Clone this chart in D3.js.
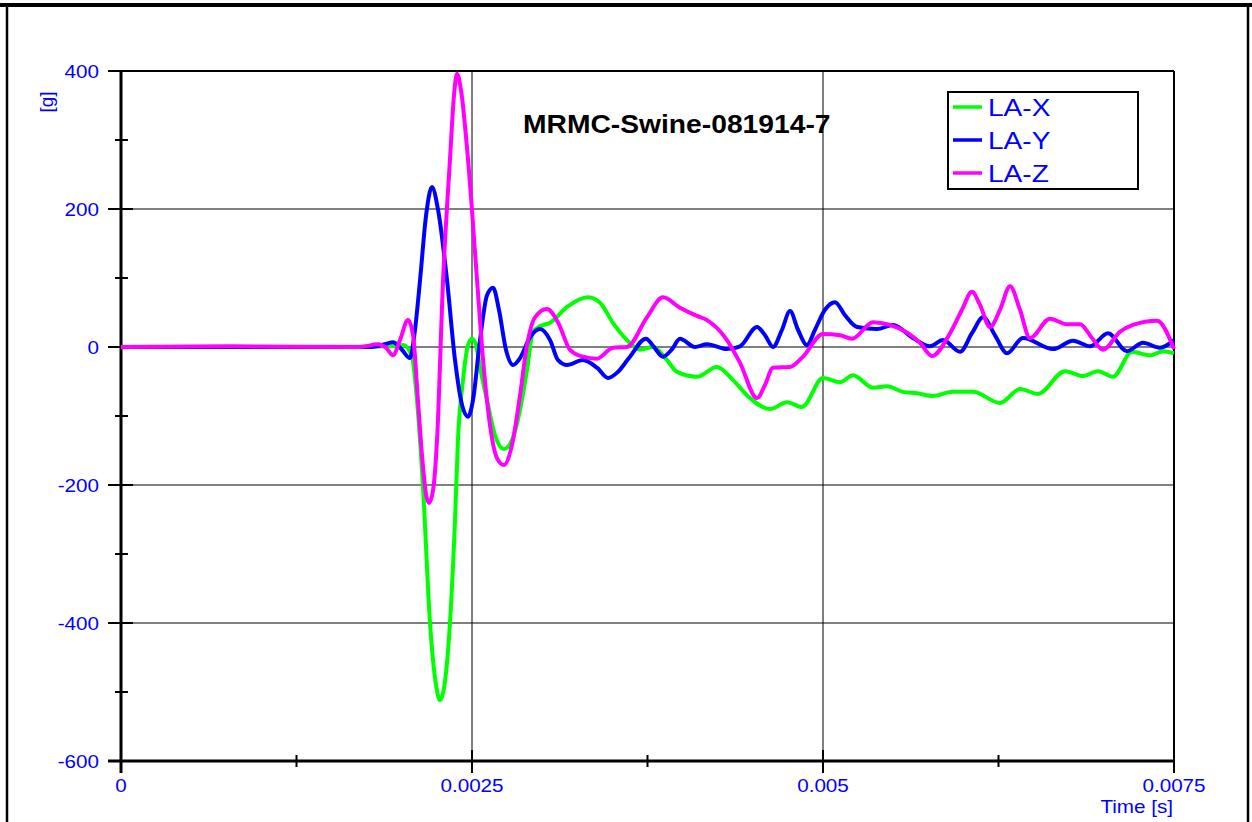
<!DOCTYPE html>
<html>
<head>
<meta charset="UTF-8">
<title>MRMC-Swine-081914-7</title>
<script src="https://cdnjs.cloudflare.com/ajax/libs/d3/7.8.5/d3.min.js"></script>
<style>
    body { margin: 0; background: #fff; }
    svg { display: block; }
    text { font-family: "Liberation Sans", Arial, sans-serif; }
</style>
</head>
<body>
<svg id="chart" width="1252" height="822"></svg>
<script>
// chart data
const chartTitle = "MRMC-Swine-081914-7";
const xTicks = [0, 0.0025, 0.005, 0.0075];
const xTickLabels = ["0", "0.0025", "0.005", "0.0075"];
const xMinorTicks = [0.00125, 0.00375, 0.00625];
const yTicks = [400, 200, 0, -200, -400, -600];
const yTickLabels = ["400", "200", "0", "-200", "-400", "-600"];
const yMinorTicks = [300, 100, -100, -300, -500];
const seriesNames = ["LA-X", "LA-Y", "LA-Z"];
const seriesColors = ["#00ff00", "#0000ff", "#ff00ff"];

// time in ms, acceleration in g
const laXTime = [0, 1.275, 1.952, 2.009, 2.073, 2.108, 2.151, 2.201, 2.244, 2.272, 2.301, 2.343, 2.379, 2.400, 2.436, 2.472, 2.500, 2.528, 2.557, 2.607, 2.664, 2.728, 2.785, 2.842, 2.892, 2.934, 2.984, 3.056, 3.177, 3.326, 3.412, 3.504, 3.604, 3.697, 3.789, 3.889, 3.960, 4.103, 4.245, 4.359, 4.480, 4.623, 4.744, 4.850, 5.000, 5.121, 5.214, 5.356, 5.456, 5.570, 5.670, 5.783, 5.926, 6.068, 6.261, 6.403, 6.531, 6.724, 6.852, 6.959, 7.066, 7.201, 7.329, 7.422, 7.500];
const laXValue = [0, 0, 1, 3, -14, -77, -203, -400, -490, -512, -494, -400, -251, -135, -48, 3, 12, 3, -29, -77, -128, -148, -135, -91, -33, 22, 30, 35, 58, 72, 64, 35, 10, -4, 0, -19, -36, -43, -29, -48, -74, -90, -80, -87, -45, -51, -41, -59, -57, -65, -67, -71, -65, -65, -81, -61, -68, -35, -42, -35, -43, -7, -12, -6, -9];

const laYTime = [0, 1.773, 1.880, 1.937, 2.001, 2.058, 2.094, 2.130, 2.173, 2.215, 2.258, 2.322, 2.379, 2.429, 2.472, 2.507, 2.557, 2.607, 2.650, 2.692, 2.742, 2.792, 2.842, 2.913, 2.984, 3.056, 3.113, 3.177, 3.290, 3.390, 3.469, 3.540, 3.625, 3.739, 3.796, 3.860, 3.925, 3.981, 4.088, 4.174, 4.316, 4.409, 4.530, 4.587, 4.644, 4.708, 4.765, 4.822, 4.886, 4.943, 5.014, 5.085, 5.157, 5.242, 5.385, 5.499, 5.641, 5.762, 5.855, 5.976, 6.061, 6.140, 6.225, 6.311, 6.424, 6.638, 6.781, 6.902, 7.030, 7.165, 7.279, 7.400, 7.500];
const laYValue = [0, 0, 4, 7, -4, -16, 25, 97, 191, 232, 199, 97, -19, -84, -101, -77, 10, 75, 86, 54, -4, -26, -16, 14, 26, 10, -19, -26, -19, -30, -45, -36, -14, 12, 0, -14, -3, 12, 0, 4, -3, 1, 29, 17, 0, 25, 52, 25, 3, 25, 54, 65, 46, 29, 26, 32, 13, 1, 10, -7, 20, 43, 17, -9, 13, -3, 9, 1, 20, -6, 6, -1, 10];

const laZTime = [0, 0.776, 1.702, 1.830, 1.887, 1.937, 1.987, 2.044, 2.080, 2.115, 2.144, 2.173, 2.194, 2.223, 2.251, 2.294, 2.343, 2.372, 2.393, 2.422, 2.472, 2.536, 2.579, 2.628, 2.678, 2.728, 2.785, 2.842, 2.892, 2.949, 3.034, 3.112, 3.198, 3.290, 3.390, 3.504, 3.604, 3.746, 3.860, 3.981, 4.103, 4.174, 4.316, 4.409, 4.530, 4.587, 4.644, 4.765, 4.858, 5.000, 5.121, 5.207, 5.356, 5.477, 5.605, 5.691, 5.776, 5.905, 5.990, 6.061, 6.118, 6.189, 6.261, 6.332, 6.403, 6.474, 6.617, 6.738, 6.831, 6.916, 6.994, 7.115, 7.208, 7.379, 7.500];
const laZValue = [0, 1, 0, 4, -1, -12, 10, 39, 17, -77, -157, -214, -226, -207, -135, 97, 271, 365, 396, 372, 271, 97, -19, -113, -161, -171, -142, -70, 3, 43, 55, 36, -4, -14, -17, -1, 0, 43, 72, 57, 45, 39, 10, -23, -74, -55, -30, -29, -14, 19, 17, 12, 36, 32, 20, 6, -13, 20, 54, 80, 61, 29, 54, 88, 54, 13, 41, 33, 33, 13, -4, 22, 32, 38, -3];

const seriesTimes = [laXTime, laYTime, laZTime];
const seriesValues = [laXValue, laYValue, laZValue];

const svg = d3.select("#chart");
const blue = "#0000ff";
const stretch = 1.18;   // text in the source is drawn a bit wider than normal

const x = d3.scaleLinear().domain([0, 0.0075]).range([121, 1174]);
const y = d3.scaleLinear().domain([-600, 400]).range([761, 71]);

svg.append("rect").attr("width", 1252).attr("height", 822).attr("fill", "#fff");

// outer frame
svg.append("line").attr("x1", 0).attr("x2", 1252).attr("y1", 5).attr("y2", 5)
    .attr("stroke", "#000").attr("stroke-width", 4);
svg.append("line").attr("x1", 7).attr("x2", 7).attr("y1", 3).attr("y2", 822)
    .attr("stroke", "#000").attr("stroke-width", 2.5);
svg.append("line").attr("x1", 1248).attr("x2", 1248).attr("y1", 3).attr("y2", 822)
    .attr("stroke", "#000").attr("stroke-width", 2.5);

// grid
svg.selectAll(".hgrid").data(yTicks.slice(1, -1)).join("line")
    .attr("x1", x(0)).attr("x2", x(0.0075))
    .attr("y1", d => y(d)).attr("y2", d => y(d))
    .attr("stroke", "#808080").attr("stroke-width", 2);
svg.selectAll(".vgrid").data(xTicks.slice(1, -1)).join("line")
    .attr("x1", d => x(d)).attr("x2", d => x(d))
    .attr("y1", y(400)).attr("y2", y(-600))
    .attr("stroke", "#000").attr("stroke-width", 1);

// plot frame
svg.append("line").attr("x1", x(0) - 13).attr("x2", x(0.0075)).attr("y1", y(400)).attr("y2", y(400))
    .attr("stroke", "#000").attr("stroke-width", 2);
svg.append("line").attr("x1", x(0.0075)).attr("x2", x(0.0075)).attr("y1", y(400)).attr("y2", y(-600) + 12)
    .attr("stroke", "#000").attr("stroke-width", 2);
svg.append("line").attr("x1", x(0)).attr("x2", x(0)).attr("y1", y(400)).attr("y2", y(-600) + 12)
    .attr("stroke", "#000").attr("stroke-width", 3);
svg.append("line").attr("x1", x(0) - 13).attr("x2", x(0.0075)).attr("y1", y(-600)).attr("y2", y(-600))
    .attr("stroke", "#000").attr("stroke-width", 3);

// ticks
svg.selectAll(".ytick").data(yTicks).join("line")
    .attr("x1", x(0) - 13).attr("x2", x(0) + 12)
    .attr("y1", d => y(d)).attr("y2", d => y(d))
    .attr("stroke", "#000").attr("stroke-width", 2);
svg.selectAll(".yminor").data(yMinorTicks).join("line")
    .attr("x1", x(0) - 6).attr("x2", x(0) + 7)
    .attr("y1", d => y(d)).attr("y2", d => y(d))
    .attr("stroke", "#000").attr("stroke-width", 2);
svg.selectAll(".xtick").data(xTicks).join("line")
    .attr("x1", d => x(d)).attr("x2", d => x(d))
    .attr("y1", y(-600) - 11).attr("y2", y(-600) + 12)
    .attr("stroke", "#000").attr("stroke-width", 2);
svg.selectAll(".xminor").data(xMinorTicks).join("line")
    .attr("x1", d => x(d)).attr("x2", d => x(d))
    .attr("y1", y(-600) - 6).attr("y2", y(-600) + 6)
    .attr("stroke", "#000").attr("stroke-width", 2);

// tick labels
svg.selectAll(".ylabel").data(yTicks).join("text")
    .attr("transform", d => `translate(99,${y(d) + 6.5}) scale(${stretch},1)`)
    .attr("text-anchor", "end").attr("font-size", 17.5).attr("fill", blue)
    .text((d, i) => yTickLabels[i]);
svg.selectAll(".xlabel").data(xTicks).join("text")
    .attr("transform", d => `translate(${x(d)},792) scale(${stretch},1)`)
    .attr("text-anchor", "middle").attr("font-size", 17.5).attr("fill", blue)
    .text((d, i) => xTickLabels[i]);

// axis titles
svg.append("text")
    .attr("transform", `translate(1173,813) scale(${stretch},1)`)
    .attr("text-anchor", "end").attr("font-size", 17.5).attr("fill", blue)
    .text("Time [s]");
svg.append("text")
    .attr("transform", "translate(53,102) rotate(-90)")
    .attr("text-anchor", "middle").attr("font-size", 19).attr("fill", blue)
    .text("[g]");

// series
const line = d3.line()
    .x(d => x(d[0] / 1000))
    .y(d => y(d[1]))
    .curve(d3.curveMonotoneX);

seriesNames.forEach((name, i) => {
    const pts = seriesTimes[i].map((t, j) => [t, seriesValues[i][j]]);
    svg.append("path")
        .datum(pts)
        .attr("d", line)
        .attr("fill", "none")
        .attr("stroke", seriesColors[i])
        .attr("stroke-width", 4)
        .attr("stroke-linejoin", "round");
});

// title
svg.append("text")
    .attr("transform", `translate(523,133) scale(1.13,1)`)
    .attr("font-size", 25).attr("font-weight", "bold").attr("fill", "#000")
    .text(chartTitle);

// legend
const legend = svg.append("g");
legend.append("rect")
    .attr("x", 948).attr("y", 92).attr("width", 190).attr("height", 97)
    .attr("fill", "#fff").attr("stroke", "#000").attr("stroke-width", 2);
seriesNames.forEach((name, i) => {
    const ly = 107 + i * 33;
    legend.append("line")
        .attr("x1", 953).attr("x2", 982).attr("y1", ly).attr("y2", ly)
        .attr("stroke", seriesColors[i]).attr("stroke-width", 3.5);
    legend.append("text")
        .attr("transform", `translate(988,${ly + 9}) scale(1.17,1)`)
        .attr("font-size", 24).attr("fill", blue)
        .text(name);
});
</script>
</body>
</html>
